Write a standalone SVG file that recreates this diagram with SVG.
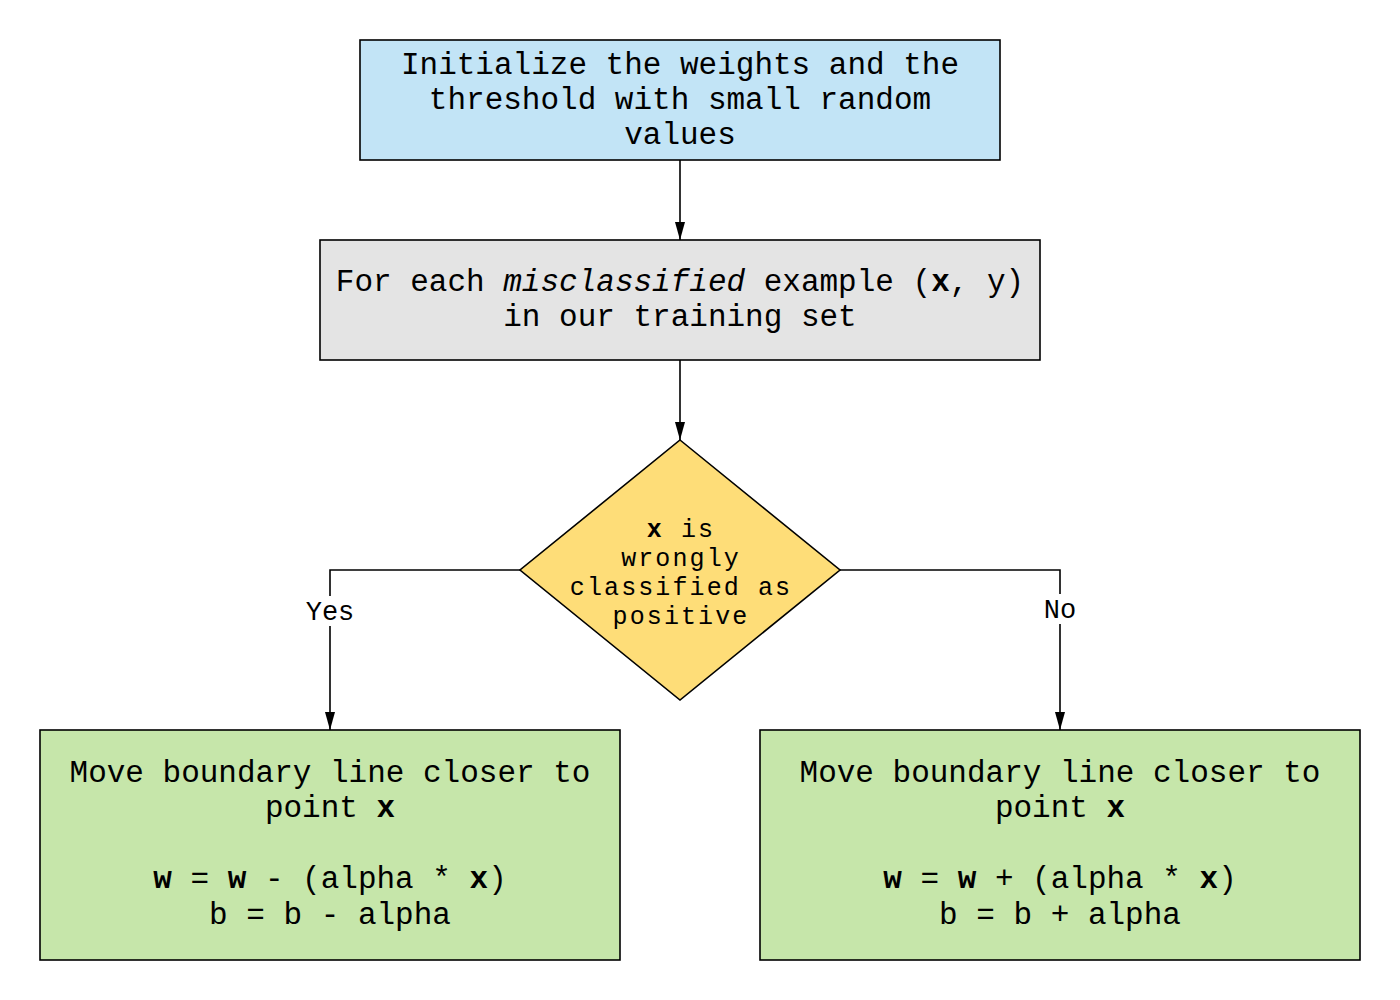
<svg xmlns="http://www.w3.org/2000/svg" width="1400" height="1000" viewBox="0 0 1400 1000">
<defs>
<marker id="ah" viewBox="0 0 18 10" refX="18" refY="5" markerWidth="18" markerHeight="10" markerUnits="userSpaceOnUse" orient="auto">
<path d="M0,0 L18,5 L0,10 Z" fill="#000"/>
</marker>
<style>
.box{stroke:#000;stroke-width:1.6}
.t{font-family:"Liberation Mono","Courier New",monospace;font-size:31px;fill:#000;text-anchor:middle}
.d{font-family:"Liberation Mono","Courier New",monospace;font-size:25px;letter-spacing:2.1px;fill:#000;text-anchor:middle}
.lbl{font-family:"Liberation Mono","Courier New",monospace;font-size:27px;fill:#000;text-anchor:middle}
.b{font-weight:bold}
.i{font-style:italic}
.c{fill:none;stroke:#000;stroke-width:1.6}
</style>
</defs>
<rect width="1400" height="1000" fill="#fff"/>
<g id="connectors">
<path class="c" d="M680,160 L680,240" marker-end="url(#ah)"/>
<path class="c" d="M680,360 L680,440" marker-end="url(#ah)"/>
<path class="c" d="M520,570 L330,570 L330,730" marker-end="url(#ah)"/>
<path class="c" d="M840,570 L1060,570 L1060,730" marker-end="url(#ah)"/>
<rect x="300" y="596" width="60" height="30" fill="#fff"/>
<text class="lbl" x="330" y="620">Yes</text>
<rect x="1038" y="594" width="44" height="30" fill="#fff"/>
<text class="lbl" x="1060" y="618">No</text>
</g>
<g id="init">
<rect class="box" x="360" y="40" width="640" height="120" fill="#c2e4f6"/>
<text class="t" x="680" y="74">Initialize the weights and the</text>
<text class="t" x="680" y="109">threshold with small random</text>
<text class="t" x="680" y="144">values</text>
</g>
<g id="foreach">
<rect class="box" x="320" y="240" width="720" height="120" fill="#e4e4e4"/>
<text class="t" x="680" y="291">For each <tspan class="i">misclassified</tspan> example (<tspan class="b">x</tspan>, y)</text>
<text class="t" x="680" y="326">in our training set</text>
</g>
<g id="decision">
<polygon class="box" points="680,440 840,570 680,700 520,570" fill="#fedd78"/>
<text class="d" x="681" y="537"><tspan class="b">x</tspan> is</text>
<text class="d" x="681" y="566">wrongly</text>
<text class="d" x="681" y="595">classified as</text>
<text class="d" x="681" y="624">positive</text>
</g>
<g id="yes-box">
<rect class="box" x="40" y="730" width="580" height="230" fill="#c6e6aa"/>
<text class="t" x="330" y="782">Move boundary line closer to</text>
<text class="t" x="330" y="817">point <tspan class="b">x</tspan></text>
<text class="t" x="330" y="888"><tspan class="b">w</tspan> = <tspan class="b">w</tspan> - (alpha * <tspan class="b">x</tspan>)</text>
<text class="t" x="330" y="924">b = b - alpha</text>
</g>
<g id="no-box">
<rect class="box" x="760" y="730" width="600" height="230" fill="#c6e6aa"/>
<text class="t" x="1060" y="782">Move boundary line closer to</text>
<text class="t" x="1060" y="817">point <tspan class="b">x</tspan></text>
<text class="t" x="1060" y="888"><tspan class="b">w</tspan> = <tspan class="b">w</tspan> + (alpha * <tspan class="b">x</tspan>)</text>
<text class="t" x="1060" y="924">b = b + alpha</text>
</g>
</svg>
